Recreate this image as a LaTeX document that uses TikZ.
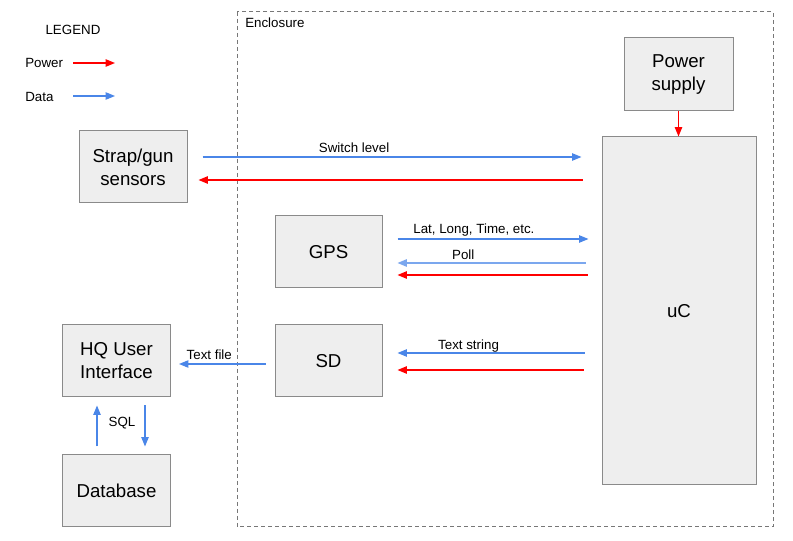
\documentclass[tikz,border=0pt]{standalone}
\usepackage{fontspec}
\setmainfont{Liberation Sans}
\usetikzlibrary{arrows.meta,calc}
\definecolor{boxfill}{HTML}{EEEEEE}
\definecolor{boxline}{HTML}{8A8A8A}
\definecolor{datablue}{HTML}{4A86E8}
\definecolor{polblue}{HTML}{7BA7EE}
\definecolor{pwrred}{HTML}{FF0000}
\definecolor{encl}{HTML}{777777}
\tikzset{
  box/.style={draw=boxline, fill=boxfill, line width=0.75pt, inner sep=0pt,
    align=center, font=\fontsize{14}{17.25}\selectfont},
  lbl/.style={font=\fontsize{10}{12}\selectfont, inner sep=0pt},
  tipstyle/.style={-{Triangle[length=7pt,width=5.5pt]}},
  data/.style={tipstyle, draw=datablue, line width=0.9pt},
  poll/.style={tipstyle, draw=polblue, line width=1.1pt},
  power/.style={tipstyle, draw=pwrred, line width=1pt},
}
\begin{document}
\begin{tikzpicture}[x=0.75pt,y=-0.75pt]
\useasboundingbox (0,0) rectangle (793,541);
\fill[white] (0,0) rectangle (793,541);

% enclosure
\draw[encl, line width=0.75pt, dash pattern=on 3pt off 2.25pt] (237,12) rectangle (773,527);
\node[lbl, anchor=west] (enclbl) at (245,23) {Enclosure};

% legend
\node[lbl] (legend) at (73,30) {LEGEND};
\node[lbl, anchor=west] (pwrlbl) at (25,63) {Power};
\node[lbl, anchor=west] (datalbl) at (25,97) {Data};
\coordinate (pA) at (73,63); \coordinate (pB) at (115,63);
\coordinate (dA) at (73,96); \coordinate (dB) at (115,96);
\draw[power] (pA) -- (pB);
\draw[data] (dA) -- (dB);

% boxes
\node[box, minimum width=81pt, minimum height=54pt] (strap) at (133,167) {Strap/gun\\sensors};
\node[box, minimum width=81.75pt, minimum height=54.75pt] (ps) at (678.5,74.5) {Power\\supply};
\node[box, minimum width=115.5pt, minimum height=261pt] (uc) at (679,311) {uC};
\node[box, minimum width=80.25pt, minimum height=54pt] (gps) at (328.5,252) {GPS};
\node[box, minimum width=80.25pt, minimum height=54pt] (sd) at (328.5,361) {SD};
\node[box, minimum width=81pt, minimum height=54pt] (hq) at (116.5,361) {HQ User\\Interface};
\node[box, minimum width=81pt, minimum height=54pt] (db) at (116.5,491) {Database};

% power supply to uC
\draw[power] (ps.south) -- (uc.north -| ps.south);

% strap <-> uC
\draw[data] ($(strap.east)+(15,-10)$) -- ($(uc.west |- strap.east)+(-20,-10)$)
  node[lbl, pos=0.4, above=2.5pt] (swl) {Switch level};
\draw[power] ($(uc.west |- strap.east)+(-19,13)$) -- ($(strap.east)+(11,13)$);

% GPS <-> uC
\draw[data] ($(gps.east)+(15,-13)$) -- ($(uc.west |- gps.east)+(-13,-13)$)
  node[lbl, pos=0.4, above=1.5pt] (latlbl) {Lat, Long, Time, etc.};
\draw[poll] ($(uc.west |- gps.east)+(-16,11)$) -- ($(gps.east)+(15,11)$)
  node[lbl, pos=0.65, above=2pt] (polllbl) {Poll};
\draw[power] ($(uc.west |- gps.east)+(-14,23)$) -- ($(gps.east)+(15,23)$);

% SD <-> uC
\draw[data] ($(uc.west |- sd.east)+(-17,-8)$) -- ($(sd.east)+(15,-8)$)
  node[lbl, pos=0.62, above=0pt] (tslbl) {Text string};
\draw[power] ($(uc.west |- sd.east)+(-18,9)$) -- ($(sd.east)+(15,9)$);

% SD -> HQ
\draw[data] ($(sd.west)+(-9,3)$) -- ($(hq.east)+(8,3)$)
  node[lbl, pos=0.65, above=2.5pt] (tflbl) {Text file};

% SQL
\draw[data] ($(db.north)+(-19.5,-8)$) -- ($(hq.south)+(-19.5,8)$);
\draw[data] ($(hq.south)+(28.5,8)$) -- ($(db.north)+(28.5,-8)$);
\node[lbl] (sql) at (122,423) {SQL};
\end{tikzpicture}
\end{document}
